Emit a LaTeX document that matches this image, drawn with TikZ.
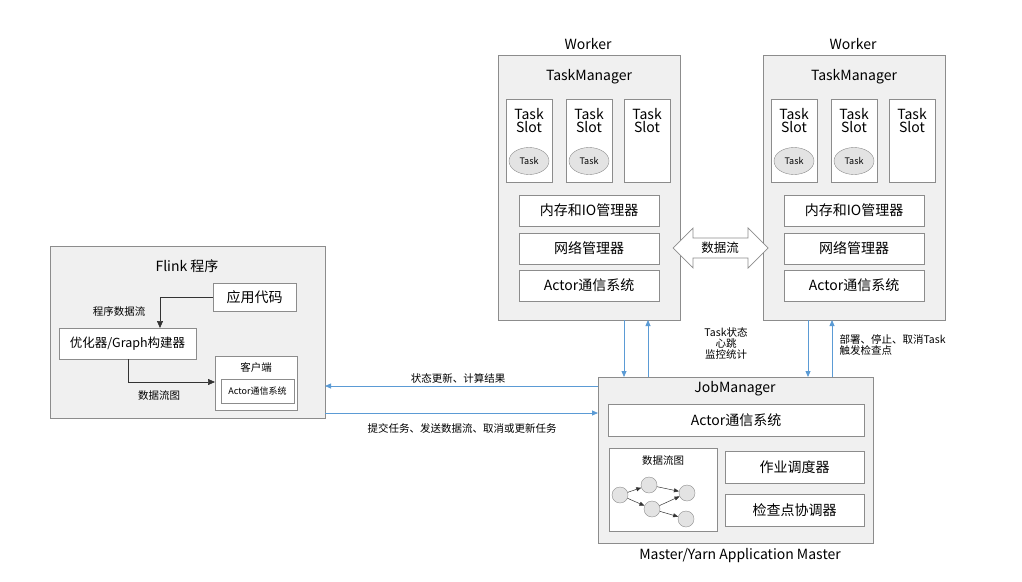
\documentclass[tikz,border=0pt]{standalone}
\usepackage{fontspec}
\setmainfont{Noto Sans CJK SC}
\usetikzlibrary{arrows.meta,shapes.geometric}
\definecolor{bx}{HTML}{F0F0F0}
\definecolor{bd}{HTML}{8C8C8C}
\definecolor{bl}{HTML}{5B9BD5}
\definecolor{cg}{HTML}{E3E3E3}
\begin{document}
\begin{tikzpicture}[x=1pt,y=-1pt,
 outer/.style={draw=bd,fill=bx,line width=0.8pt},
 inner/.style={draw=bd,fill=white,line width=0.6pt},
 big/.style={font=\fontsize{14}{16}\selectfont},
 mid/.style={font=\fontsize{12.5}{15}\selectfont},
 small/.style={font=\fontsize{10.5}{13}\selectfont},
 tiny/.style={font=\fontsize{9}{11}\selectfont},
 barr/.style={draw=bl,line width=0.8pt,-{Triangle[length=6pt,width=5pt]}},
 karr/.style={draw=black!80,line width=0.7pt,-{Triangle[length=7pt,width=6pt]}},
 dot/.style={circle,draw=bd,fill=cg,minimum size=16pt,inner sep=0pt},
 tk/.style={ellipse,draw=bd,fill=cg,minimum width=40pt,minimum height=27pt,inner sep=0pt}]
\useasboundingbox (0,0) rectangle (1022,581);
% Flink program
\draw[outer] (50,246) rectangle (325,418);
\node[big] (ft) at (187,266) {Flink 程序};
\draw[inner] (213,283) rectangle (296,311); \node[big] (code) at (254.5,297) {应用代码};
\draw[inner] (59,328) rectangle (196,359); \node[mid] (opt) at (127.5,343.5) {优化器/Graph构建器};
\draw[inner] (215,356) rectangle (297,410); \node[small] (cl) at (256,367) {客户端};
\draw[inner] (221,379) rectangle (294,403); \node[tiny] (cla) at (257.5,391) {Actor通信系统};
\coordinate (c1) at (213,297); \coordinate (c2) at (160,297); \coordinate (c3) at (160,328);
\draw[karr] (c1) -- (c2) -- (c3);
\node[small] (l1) at (119,311) {程序数据流};
\coordinate (d1) at (128,359); \coordinate (d2) at (128,382); \coordinate (d3) at (215,382);
\draw[karr] (d1) -- (d2) -- (d3);
\node[small] (l2) at (159,396) {数据流图};
% Workers
\foreach \o/\n in {0/a,265/b}{
 \begin{scope}[xshift=\o]
 \node[big] (w\n) at (588,44) {Worker};
 \draw[outer] (498,55) rectangle (680,320);
 \node[big] (tm\n) at (589,77) {TaskManager};
 \foreach \sx/\t in {506/1,566/1,624/0}{
  \draw[inner] (\sx,99) rectangle (\sx+46,182);
  \node[big,align=center] at (\sx+23,121) {Task\\[-3pt]Slot};
  \ifnum\t=1 \node[tk,tiny] at (\sx+23,161) {Task};\fi
 }
 \draw[inner] (519,195) rectangle (659,226); \node[big] at (589,210.5) {内存和IO管理器};
 \draw[inner] (519,233) rectangle (659,264); \node[big] at (589,248.5) {网络管理器};
 \draw[inner] (519,270) rectangle (659,301); \node[big] at (589,285.5) {Actor通信系统};
 \end{scope}}
% double arrow
\draw[draw=bd,fill=white,line width=0.7pt] (673,248)--(693,228)--(693,238)--(748,238)--(748,228)--(768,248)--(748,268)--(748,258)--(693,258)--(693,268)--cycle;
\node[mid] (ds) at (720,248) {数据流};
% JobManager
\draw[outer] (598,377) rectangle (873,543);
\node[big] (jm) at (735,389) {JobManager};
\draw[inner] (608,404) rectangle (864,436); \node[big] at (736,420) {Actor通信系统};
\draw[inner] (609,448) rectangle (717,531); \node[small] at (663,461) {数据流图};
\draw[inner] (725,451) rectangle (864,483); \node[big] at (794.5,467) {作业调度器};
\draw[inner] (725,494) rectangle (864,526); \node[big] at (794.5,510) {检查点协调器};
\node[big] (mm) at (740,556) {Master/Yarn Application Master};
\node[dot] (g1) at (620,495) {}; \node[dot] (g2) at (649,485) {}; \node[dot] (g3) at (652,509) {};
\node[dot] (g4) at (687,493) {}; \node[dot] (g5) at (686,519) {};
\foreach \a/\b in {g1/g2,g1/g3,g2/g4,g3/g4,g3/g5}
 \draw[black!80,line width=0.5pt,-{Triangle[length=5pt,width=4pt]}] (\a) -- (\b);
% vertical blue arrows
\coordinate (p1) at (624,320); \coordinate (p2) at (624,377);
\coordinate (p3) at (648,377); \coordinate (p4) at (648,320);
\coordinate (q1) at (808,320); \coordinate (q2) at (808,377);
\coordinate (q3) at (832,377); \coordinate (q4) at (832,320);
\draw[barr] (p1)--(p2); \draw[barr] (p3)--(p4);
\draw[barr] (q1)--(q2); \draw[barr] (q3)--(q4);
\node[small,align=center] (ts) at (726,343) {Task状态\\[-2pt]心跳\\[-2pt]监控统计};
\node[small,align=left,anchor=west] (dp) at (836,345) {部署、停止、取消Task\\[-2pt]触发检查点};
% horizontal arrows
\coordinate (h1) at (598,386); \coordinate (h2) at (325,386);
\coordinate (h3) at (325,413); \coordinate (h4) at (598,413);
\draw[barr] (h1)--(h2); \draw[barr] (h3)--(h4);
\node[small] (s1) at (458,378) {状态更新、计算结果};
\node[small] (s2) at (462,428) {提交任务、发送数据流、取消或更新任务};
\end{tikzpicture}
\end{document}
